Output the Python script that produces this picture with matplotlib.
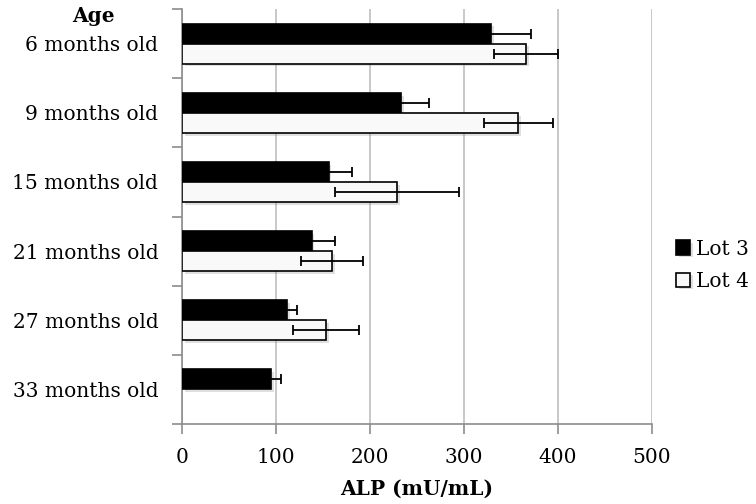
import matplotlib
matplotlib.use("Agg")
import matplotlib.pyplot as plt
import matplotlib.patheffects as pe
import numpy as np

# values
ages = ["6 months old", "9 months old", "15 months old",
        "21 months old", "27 months old", "33 months old"]
lot3 = [329, 233, 156, 138, 112, 95]
lot3_err = [42, 30, 25, 25, 10, 10]
lot4 = [366, 358, 229, 160, 153, np.nan]
lot4_err = [34, 37, 66, 33, 35, np.nan]
x_ticks = [0, 100, 200, 300, 400, 500]

plt.rcParams["font.family"] = ["DejaVu Serif"]
fs = 14.5

fig = plt.figure(figsize=(7.56, 5.04), dpi=100)
ax = fig.add_axes([0.2407, 0.1587, 0.6217, 0.8233])

pos = np.arange(len(ages))
h = 0.29
shadow = [pe.SimplePatchShadow(offset=(2, -2), shadow_rgbFace="gray", alpha=0.25), pe.Normal()]

b3 = ax.barh(pos - h / 2, lot3, height=h, color="black", edgecolor="black",
             linewidth=1.2, zorder=3, label="Lot 3")
b4 = ax.barh(pos + h / 2, lot4, height=h, color="#f9f9f9", edgecolor="black",
             linewidth=1.2, zorder=3, label="Lot 4")
for b in list(b3) + list(b4):
    b.set_path_effects(shadow)

ax.errorbar(lot3, pos - h / 2, xerr=lot3_err, fmt="none", ecolor="black",
            elinewidth=1.3, capsize=3.5, capthick=1.3, zorder=4)
ax.errorbar(lot4, pos + h / 2, xerr=lot4_err, fmt="none", ecolor="black",
            elinewidth=1.3, capsize=3.5, capthick=1.3, zorder=4)

ax.set_xlim(0, 500)
ax.set_ylim(len(ages) - 0.5, -0.5)
ax.set_xticks(x_ticks)
ax.set_xticklabels([str(v) for v in x_ticks], fontsize=fs)
ax.xaxis.grid(True, color="#bfbfbf", linewidth=1.2, zorder=0)

# category boundaries as ticks, labels centred between them
ax.set_yticks(np.arange(-0.5, len(ages), 1.0))
ax.set_yticklabels([])
ax.set_yticks(pos, minor=True)
ax.set_yticklabels(ages, minor=True, fontsize=fs)
ax.tick_params(axis="y", which="minor", length=0, pad=17)
ax.tick_params(axis="y", which="major", length=7, color="#8c8c8c", width=1.2)
ax.tick_params(axis="x", length=7, color="#8c8c8c", width=1.2, pad=10)

for s in ["top", "right"]:
    ax.spines[s].set_visible(False)
for s in ["left", "bottom"]:
    ax.spines[s].set_color("#8c8c8c")
    ax.spines[s].set_linewidth(1.2)

ax.set_xlabel("ALP (mU/mL)", fontsize=fs, fontweight="bold", labelpad=9)
fig.text(0.124, 0.968, "Age", fontsize=fs, fontweight="bold", ha="center", va="center")

ax.legend(handles=[b3, b4], loc="center left", bbox_to_anchor=(1.012, 0.383),
          frameon=False, fontsize=fs, handlelength=0.7, handleheight=0.7,
          handletextpad=0.3, labelspacing=0.65)

fig.savefig("out.png", dpi=100)
